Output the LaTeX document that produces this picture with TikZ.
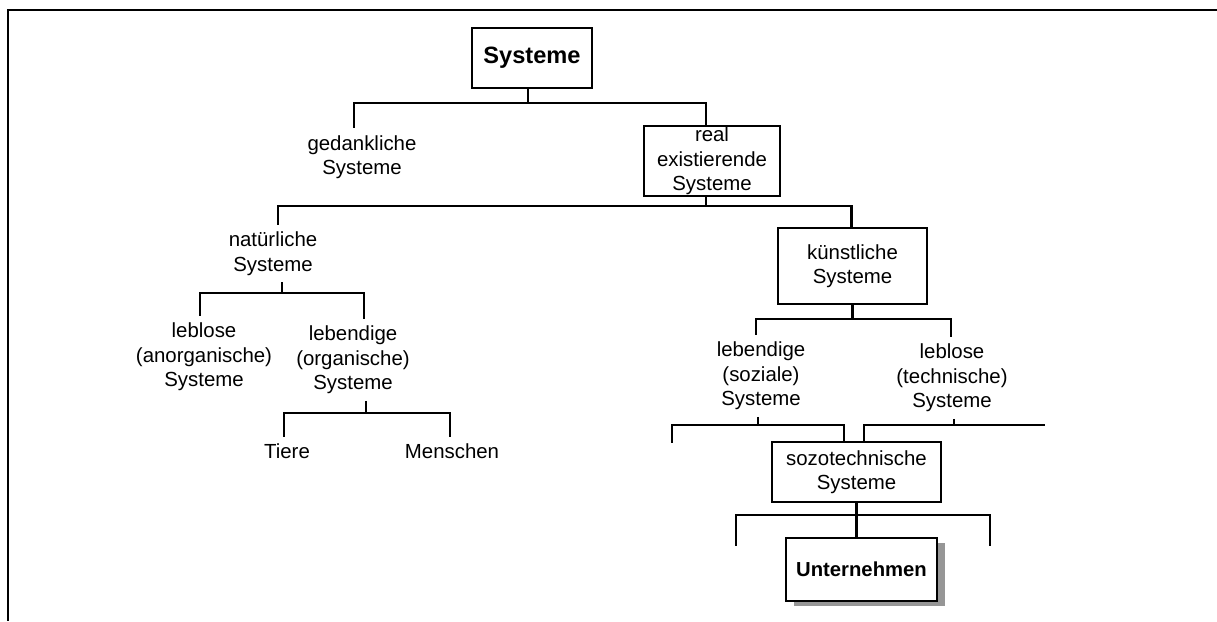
\documentclass[tikz,border=0pt]{standalone}
\usepackage{fontspec}
\setmainfont{Liberation Sans}
\usetikzlibrary{calc,shadows}
\definecolor{shadowgray}{RGB}{150,150,150}
\begin{document}
\begin{tikzpicture}[x=0.75pt,y=-0.75pt,
  conn/.style={line width=1.6pt},
  box/.style={draw,line width=1.5pt,align=center,font=\fontsize{15.3}{18.4}\selectfont,inner sep=0pt},
  lbl/.style={align=center,font=\fontsize{15.3}{18.4}\selectfont,inner xsep=0pt,inner ysep=5pt},
  frame/.style={line width=2pt}
]
\useasboundingbox (0,0) rectangle (1217,621);
\draw[frame] (1217,10) -- (8,10) -- (8,621);

\node[box,font=\bfseries\fontsize{17.7}{20}\selectfont,minimum width=90pt,minimum height=45pt] (sys) at (532,58) {Systeme};
\node[lbl] (ged) at (362,157) {gedankliche\\Systeme};
\node[box,minimum width=102pt,minimum height=52.5pt] (real) at (712,161) {real\\existierende\\Systeme};
\node[lbl] (nat) at (273,253.5) {natürliche\\Systeme};
\node[box,minimum width=111.75pt,minimum height=57pt] (kuen) at (852.5,266) {künstliche\\Systeme};
\node[lbl] (lanorg) at (204,357) {leblose\\(anorganische)\\Systeme};
\node[lbl] (lorg) at (353,360) {lebendige\\(organische)\\Systeme};
\node[lbl] (tiere) at (287,451) {Tiere};
\node[lbl] (menschen) at (452,451) {Menschen};
\node[lbl] (lsoz) at (761,376) {lebendige\\(soziale)\\Systeme};
\node[lbl] (ltech) at (952,378) {leblose\\(technische)\\Systeme};
\node[box,minimum width=126.75pt,minimum height=45pt] (sozo) at (856.5,472) {sozotechnische\\Systeme};
\node[box,font=\bfseries\fontsize{15.2}{18}\selectfont,minimum width=113.25pt,minimum height=47.25pt,fill=white,
      drop shadow={shadow xshift=6pt,shadow yshift=-4pt,fill=shadowgray,draw=none,opacity=1}] (unt) at (861.5,569.5) {Unternehmen};

\draw[conn] ($(sys.south)+(-4,0)$) -- ++(0,14) -| ($(ged.north)+(-8,0)$);
\draw[conn] ($(sys.south)+(-4,14)$) -| ($(real.north)+(-6,0)$);
\draw[conn] ($(real.south)+(-6,0)$) -- ++(0,9) -| ($(nat.north)+(5,0)$);
\draw[conn] ($(real.south)+(-6,9)$) -| ($(kuen.north)+(-1,0)$);
\draw[conn] ($(nat.south)+(9,0)$) -- ++(0,11) -| ($(lanorg.north)+(-4,0)$);
\draw[conn] ($(nat.south)+(9,11)$) -| ($(lorg.north)+(11,0)$);
\draw[conn] ($(lorg.south)+(13,0)$) -- ++(0,12) -| ($(tiere.north)+(-3,0)$);
\draw[conn] ($(lorg.south)+(13,12)$) -| ($(menschen.north)+(-2,0)$);
\draw[conn] (kuen.south) -- ++(0,14) -| ($(lsoz.north)+(-5,0)$);
\draw[conn] ($(kuen.south)+(0,14)$) -| ($(ltech.north)+(-1,0)$);
\draw[conn] ($(lsoz.south)+(-3,0)$) -- ++(0,8) -| ($(sozo.north)+(-12.5,0)$);
\draw[conn] ($(lsoz.south)+(-3,8)$) -- ++(-86,0) -- ++(0,18);
\draw[conn] ($(ltech.south)+(2,0)$) -- ++(0,6) -| ($(sozo.north)+(7.5,0)$);
\draw[conn] ($(ltech.south)+(2,6)$) -- ++(91,0);
\draw[conn] (sozo.south) -- (sozo.south |- unt.north);
\draw[conn] ($(sozo.south)+(0,12)$) -- ++(-120.5,0) -- ++(0,31);
\draw[conn] ($(sozo.south)+(0,12)$) -- ++(133.5,0) -- ++(0,31);
\end{tikzpicture}
\end{document}
